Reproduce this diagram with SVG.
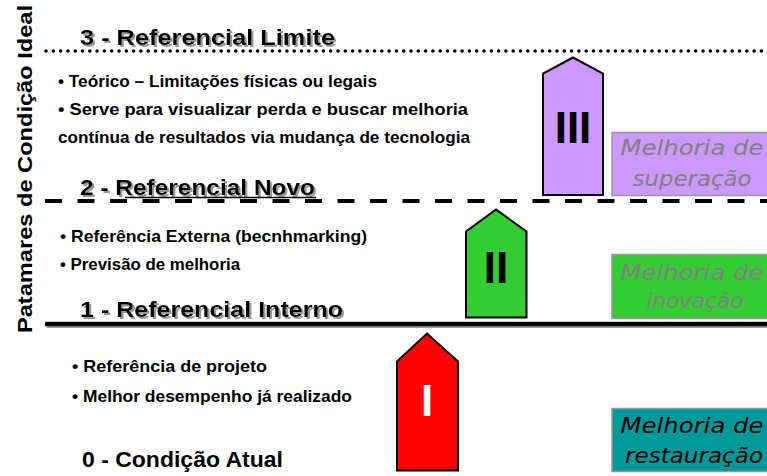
<svg xmlns="http://www.w3.org/2000/svg" width="767" height="476" viewBox="0 0 767 476">
<defs>
<style>
.head{font-family:"Liberation Sans","DejaVu Sans",sans-serif;font-weight:bold;font-size:21.5px;fill:#000}
.bul{font-family:"Liberation Sans","DejaVu Sans",sans-serif;font-weight:bold;font-size:16.5px;fill:#000}
.side{font-family:"Liberation Sans","DejaVu Sans",sans-serif;font-weight:bold;font-size:21px;fill:#000}
.num{font-family:"Liberation Sans Narrow","Liberation Sans",sans-serif;font-weight:bold;font-size:44px;text-anchor:middle}
.box{stroke:#999999;stroke-width:1.5}
.btxt{font-family:"DejaVu Sans","Liberation Sans",sans-serif;font-style:italic;font-size:21px;fill:#808080;text-anchor:middle}
.arrow{stroke:#000;stroke-width:2;stroke-linejoin:miter}
</style>
<filter id="sh" x="-5%" y="-30%" width="110%" height="160%">
<feOffset in="SourceAlpha" dx="1.5" dy="1.5" result="o"/>
<feFlood flood-color="#9a9a9a"/>
<feComposite in2="o" operator="in" result="s"/>
<feMerge><feMergeNode in="s"/><feMergeNode in="SourceGraphic"/></feMerge>
</filter>
</defs>
<rect width="767" height="476" fill="#ffffff"/>

<g id="connectors">
<line x1="46" y1="51" x2="767" y2="51" stroke="#000" stroke-width="3.6" stroke-linecap="round" stroke-dasharray="0 7.3"/>
<line x1="45" y1="201" x2="767" y2="201" stroke="#000" stroke-width="4" stroke-dasharray="17 15.5"/>
<rect x="45" y="321.8" width="722" height="4.5" fill="#000" filter="url(#sh)"/>
</g>

<g id="axis-label">
<text class="side" transform="translate(32,169) rotate(-90)" text-anchor="middle" textLength="328" lengthAdjust="spacingAndGlyphs">Patamares de Condição Ideal</text>
</g>

<g id="level3">
<text class="head" x="80" y="45" textLength="255" lengthAdjust="spacingAndGlyphs" filter="url(#sh)">3 - Referencial Limite</text>
<text class="bul" x="58" y="86.5" textLength="319" lengthAdjust="spacingAndGlyphs">• Teórico – Limitações físicas ou legais</text>
<text class="bul" x="58" y="115" textLength="410" lengthAdjust="spacingAndGlyphs">• Serve para visualizar perda e buscar melhoria</text>
<text class="bul" x="58" y="142.5" textLength="412" lengthAdjust="spacingAndGlyphs">contínua de resultados via mudança de tecnologia</text>
</g>

<g id="level2">
<text class="head" x="80" y="195" textLength="235" lengthAdjust="spacingAndGlyphs" filter="url(#sh)">2 - Referencial Novo</text>
<line x1="125" y1="197.5" x2="316" y2="197.5" stroke="#000" stroke-width="1.5"/>
<text class="bul" x="60" y="242" textLength="307" lengthAdjust="spacingAndGlyphs">• Referência Externa (becnhmarking)</text>
<text class="bul" x="60" y="270" textLength="180" lengthAdjust="spacingAndGlyphs">• Previsão de melhoria</text>
</g>

<g id="level1">
<text class="head" x="80" y="316.5" textLength="263" lengthAdjust="spacingAndGlyphs" filter="url(#sh)">1 - Referencial Interno</text>
<text class="bul" x="72" y="372" textLength="195" lengthAdjust="spacingAndGlyphs">• Referência de projeto</text>
<text class="bul" x="72" y="401.5" textLength="280" lengthAdjust="spacingAndGlyphs">• Melhor desempenho já realizado</text>
</g>

<g id="level0">
<text class="head" x="82" y="467" textLength="201" lengthAdjust="spacingAndGlyphs">0 - Condição Atual</text>
</g>

<g id="arrow-III">
<polygon class="arrow" fill="#CC99FF" points="543,195 543,73.5 573,57.5 603,73.5 603,195"/>
<text class="num" x="573" y="143" fill="#000">III</text>
</g>

<g id="arrow-II">
<polygon class="arrow" fill="#33CC33" points="466,317.5 466,231.5 496,209.5 526.5,231.5 526.5,317.5"/>
<text class="num" x="496" y="283" fill="#000">II</text>
</g>

<g id="arrow-I">
<polygon class="arrow" fill="#FF0000" points="397,470.5 397,361.5 427,333.5 458,361.5 458,470.5"/>
<text class="num" x="427" y="415.5" fill="#ffffff">I</text>
</g>

<g id="box-superacao">
<rect class="box" x="612" y="132.5" width="170" height="63" fill="#CC99FF"/>
<text class="btxt" x="692" y="155" textLength="143" lengthAdjust="spacingAndGlyphs">Melhoria de</text>
<text class="btxt" x="692" y="185.5" textLength="119" lengthAdjust="spacingAndGlyphs">superação</text>
</g>

<g id="box-inovacao">
<rect class="box" x="612" y="254.5" width="170" height="64" fill="#33CC33"/>
<text class="btxt" x="692" y="280" textLength="143" lengthAdjust="spacingAndGlyphs">Melhoria de</text>
<text class="btxt" x="695" y="308" textLength="97" lengthAdjust="spacingAndGlyphs">inovação</text>
</g>

<g id="box-restauracao">
<rect class="box" x="612" y="408.5" width="170" height="63" fill="#009999"/>
<text class="btxt" x="692" y="433" textLength="143" lengthAdjust="spacingAndGlyphs" style="fill:#000">Melhoria de</text>
<text class="btxt" x="694" y="463" textLength="138" lengthAdjust="spacingAndGlyphs" style="fill:#000">restauração</text>
</g>
</svg>
